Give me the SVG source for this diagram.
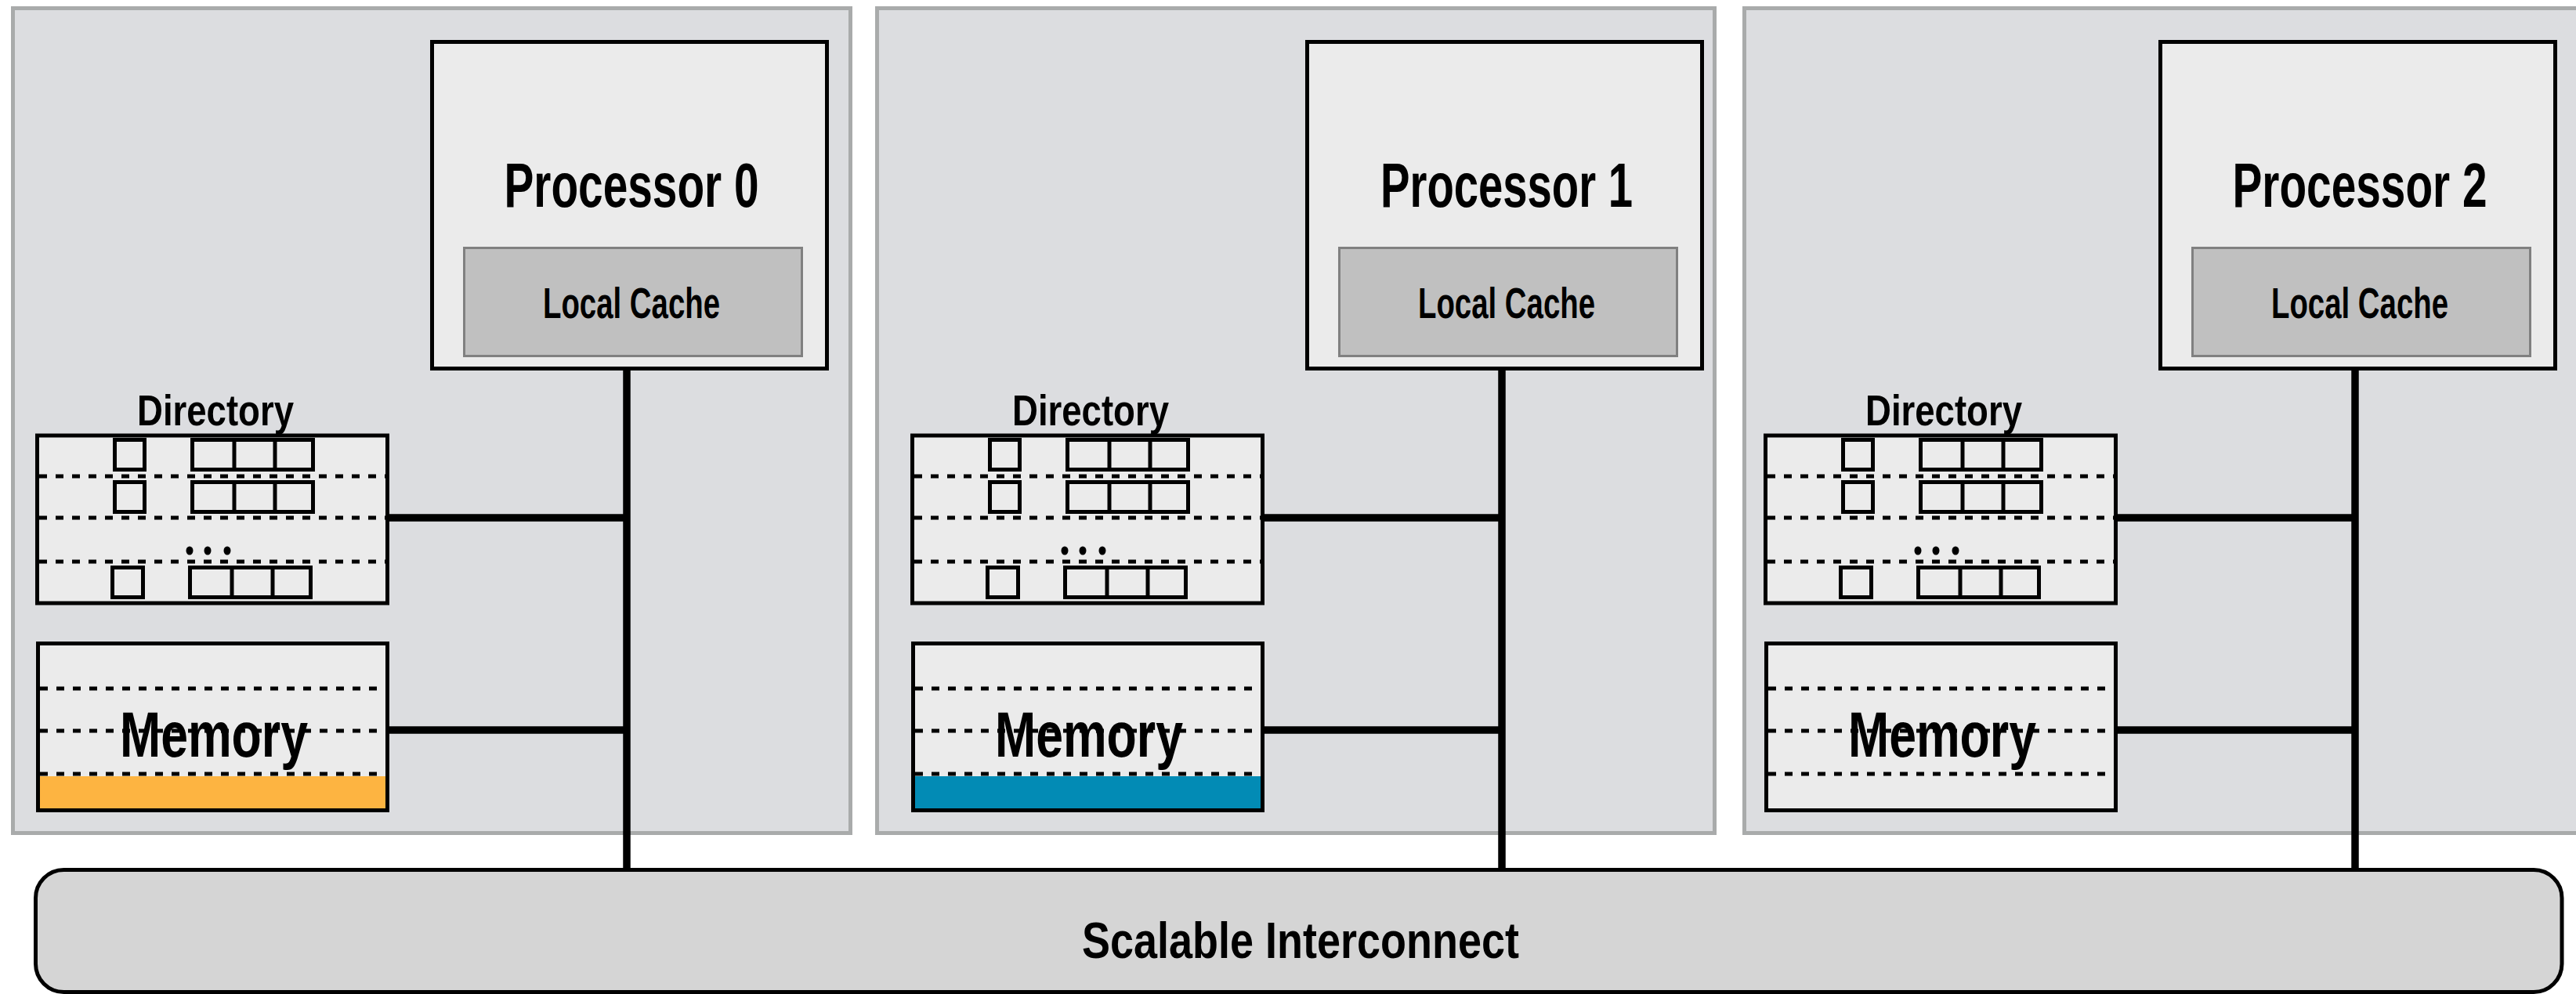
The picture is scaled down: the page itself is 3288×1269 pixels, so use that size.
<svg xmlns="http://www.w3.org/2000/svg" width="3288" height="1269" viewBox="0 0 3288 1269">
<style>
.panel{fill:#dcdde0;stroke:#a9abab;stroke-width:5}
.proc{fill:#ebebeb;stroke:#000;stroke-width:5}
.cache{fill:#c0c0c0;stroke:#808080;stroke-width:3}
.box{fill:#ebebeb;stroke:#000;stroke-width:5}
.outline{fill:none;stroke:#000;stroke-width:5}
.cell{fill:none;stroke:#000;stroke-width:5}
.div{stroke:#000;stroke-width:5}
.dash{stroke:#000;stroke-width:5;stroke-dasharray:10 11;fill:none}
.dot{fill:#000}
.wire{stroke:#000;stroke-width:9.5;fill:none}
.bus{fill:#d5d5d5;stroke:#000;stroke-width:5}
.t{font-family:"Liberation Sans",Arial,sans-serif;font-weight:bold;fill:#000;text-anchor:middle}
.orange{fill:#fdb441}
.blue{fill:#028bb5}
</style>
<defs>
<g id="dirContent">
<rect class="box" x="47.5" y="556" width="447" height="214"/>
<line class="dash" x1="50" y1="608" x2="497" y2="608"/>
<line class="dash" x1="50" y1="661" x2="497" y2="661"/>
<line class="dash" x1="50" y1="717" x2="497" y2="717"/>
<rect class="cell" x="146.5" y="561.5" width="38" height="38"/>
<rect class="cell" x="245.5" y="561.5" width="154" height="38"/>
<line class="div" x1="299" y1="561.5" x2="299" y2="599.5"/>
<line class="div" x1="351" y1="561.5" x2="351" y2="599.5"/>
<rect class="cell" x="146.5" y="615.5" width="38" height="38"/>
<rect class="cell" x="245.5" y="615.5" width="154" height="38"/>
<line class="div" x1="299" y1="615.5" x2="299" y2="653.5"/>
<line class="div" x1="351" y1="615.5" x2="351" y2="653.5"/>
<ellipse class="dot" cx="242" cy="703" rx="4.5" ry="5.5"/>
<ellipse class="dot" cx="265" cy="703" rx="4.5" ry="5.5"/>
<ellipse class="dot" cx="290" cy="703" rx="4.5" ry="5.5"/>
<rect class="cell" x="143.5" y="724.5" width="39" height="38"/>
<rect class="cell" x="242.5" y="724.5" width="154" height="38"/>
<line class="div" x1="296" y1="724.5" x2="296" y2="762.5"/>
<line class="div" x1="348" y1="724.5" x2="348" y2="762.5"/>
</g>
<g id="memBack">
<rect class="box" x="48.5" y="821.5" width="446" height="213"/>
<line class="dash" x1="51" y1="879" x2="497" y2="879"/>
<line class="dash" x1="51" y1="933" x2="497" y2="933"/>
<line class="dash" x1="51" y1="988" x2="497" y2="988"/>
</g>
</defs>

<g id="panels">
<rect class="panel" x="16.5" y="10.5" width="1069" height="1053"/>
<rect class="panel" x="1119.5" y="10.5" width="1069" height="1053"/>
<rect class="panel" x="2226.5" y="10.5" width="1069" height="1053"/>
</g>

<g id="connectors">
<line class="wire" x1="800" y1="470" x2="800" y2="1111"/>
<line class="wire" x1="494" y1="661" x2="800" y2="661"/>
<line class="wire" x1="494" y1="932" x2="800" y2="932"/>
<line class="wire" x1="1917" y1="470" x2="1917" y2="1111"/>
<line class="wire" x1="1611" y1="661" x2="1917" y2="661"/>
<line class="wire" x1="1611" y1="932" x2="1917" y2="932"/>
<line class="wire" x1="3006" y1="470" x2="3006" y2="1111"/>
<line class="wire" x1="2700" y1="661" x2="3006" y2="661"/>
<line class="wire" x1="2700" y1="932" x2="3006" y2="932"/>
</g>

<g id="processor0">
<rect class="proc" x="551.5" y="53.5" width="504" height="417"/>
<text class="t" x="806" y="264" font-size="79" textLength="325" lengthAdjust="spacingAndGlyphs">Processor 0</text>
<rect class="cache" x="592.5" y="316.5" width="431" height="138"/>
<text class="t" x="806" y="406" font-size="55" textLength="226" lengthAdjust="spacingAndGlyphs">Local Cache</text>
</g>
<g id="directory0">
<text class="t" x="275" y="543" font-size="55" textLength="200" lengthAdjust="spacingAndGlyphs">Directory</text>
<use href="#dirContent"/>
</g>
<g id="memory0">
<use href="#memBack"/>
<rect class="orange" x="51" y="991" width="441" height="41"/>
<text class="t" x="273" y="966" font-size="82" textLength="240" lengthAdjust="spacingAndGlyphs">Memory</text>
<rect class="outline" x="48.5" y="821.5" width="446" height="213"/>
</g>

<g id="processor1" transform="translate(1117,0)">
<rect class="proc" x="551.5" y="53.5" width="504" height="417"/>
<text class="t" x="806" y="264" font-size="79" textLength="322" lengthAdjust="spacingAndGlyphs">Processor 1</text>
<rect class="cache" x="592.5" y="316.5" width="431" height="138"/>
<text class="t" x="806" y="406" font-size="55" textLength="226" lengthAdjust="spacingAndGlyphs">Local Cache</text>
</g>
<g id="directory1" transform="translate(1117,0)">
<text class="t" x="275" y="543" font-size="55" textLength="200" lengthAdjust="spacingAndGlyphs">Directory</text>
<use href="#dirContent"/>
</g>
<g id="memory1" transform="translate(1117,0)">
<use href="#memBack"/>
<rect class="blue" x="51" y="991" width="441" height="41"/>
<text class="t" x="273" y="966" font-size="82" textLength="240" lengthAdjust="spacingAndGlyphs">Memory</text>
<rect class="outline" x="48.5" y="821.5" width="446" height="213"/>
</g>

<g id="processor2" transform="translate(2206,0)">
<rect class="proc" x="551.5" y="53.5" width="504" height="417"/>
<text class="t" x="806" y="264" font-size="79" textLength="325" lengthAdjust="spacingAndGlyphs">Processor 2</text>
<rect class="cache" x="592.5" y="316.5" width="431" height="138"/>
<text class="t" x="806" y="406" font-size="55" textLength="226" lengthAdjust="spacingAndGlyphs">Local Cache</text>
</g>
<g id="directory2" transform="translate(2206,0)">
<text class="t" x="275" y="543" font-size="55" textLength="200" lengthAdjust="spacingAndGlyphs">Directory</text>
<use href="#dirContent"/>
</g>
<g id="memory2" transform="translate(2206,0)">
<use href="#memBack"/>
<text class="t" x="273" y="966" font-size="82" textLength="240" lengthAdjust="spacingAndGlyphs">Memory</text>
<rect class="outline" x="48.5" y="821.5" width="446" height="213"/>
</g>

<g id="interconnect">
<rect class="bus" x="45.5" y="1110.5" width="3224.5" height="156" rx="36" ry="36"/>
<text class="t" x="1660" y="1223" font-size="65" textLength="558" lengthAdjust="spacingAndGlyphs">Scalable Interconnect</text>
</g>
</svg>
